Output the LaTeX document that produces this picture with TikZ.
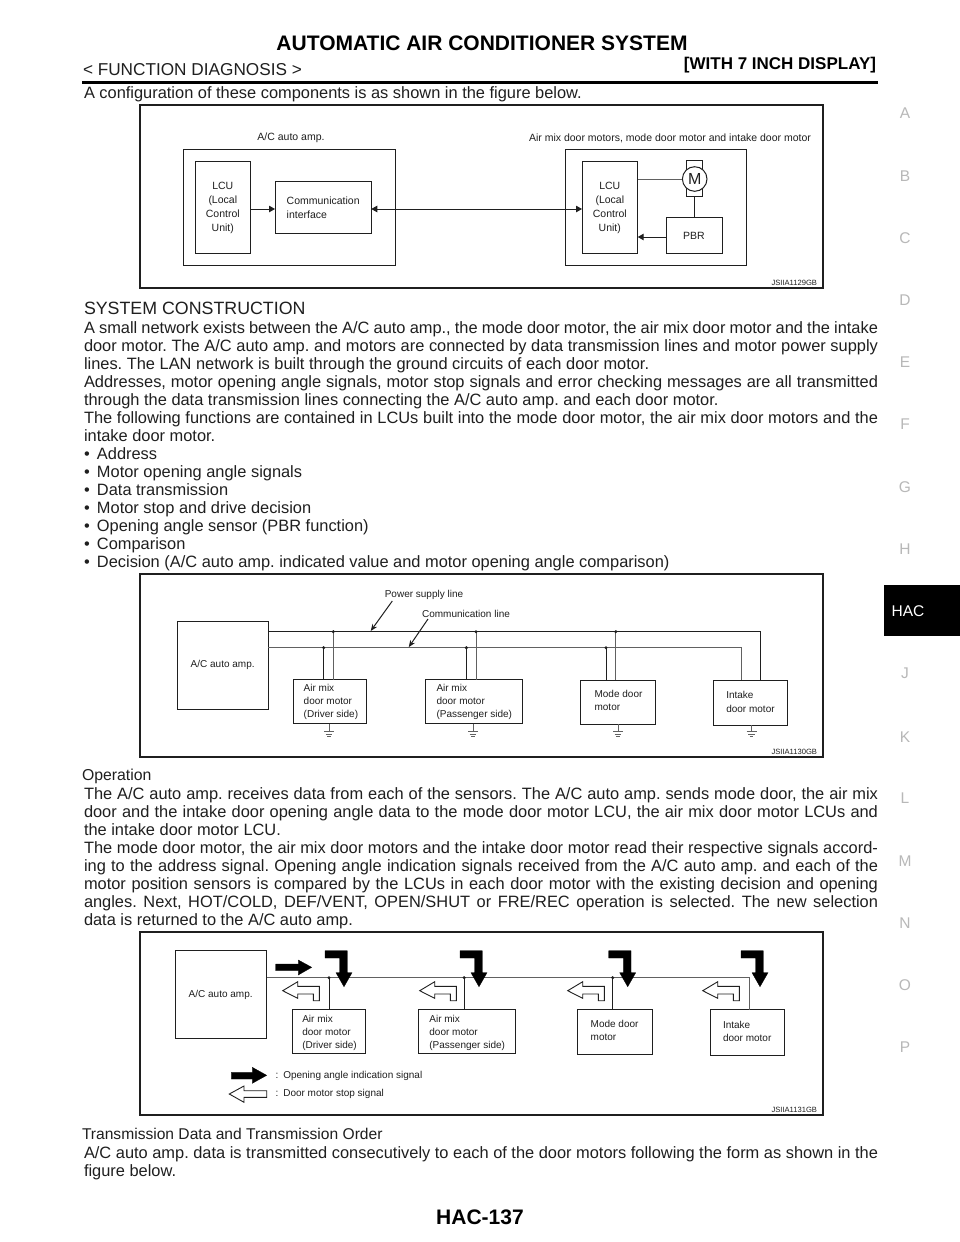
\documentclass[tikz,border=0pt]{standalone}
\usepackage{fontspec}
\setmainfont{Liberation Sans}
\usetikzlibrary{arrows.meta}
\definecolor{ink}{gray}{0.12}
\definecolor{graywire}{gray}{0.38}
\definecolor{side}{gray}{0.72}
\frenchspacing
\newcommand{\fs}[1]{\fontsize{#1}{#1}\selectfont}
\newcommand{\bodysz}{\fs{16.4}}
\newcommand{\jl}[2]{\node[anchor=base west,inner sep=0,text=ink] at (84,#1+5.5) {\bodysz\makebox[794pt][s]{#2}};}
\newcommand{\pl}[2]{\node[anchor=base west,inner sep=0,text=ink] at (84,#1+5.5) {\bodysz #2};}
\newcommand{\bu}[2]{\node[anchor=base west,inner sep=0,text=ink] at (84,#1+5.5) {\bodysz\makebox[13pt][l]{\textbullet}#2};}
\newcommand{\sd}[2]{\node[side,anchor=center] at (905,#1) {#2};}
\tikzset{
 every node/.style={inner sep=0,outer sep=0},
 box/.style={draw=ink,line width=1pt},
 frameb/.style={draw=ink,line width=1.8pt},
 wire/.style={draw=ink,line width=1pt},
 gwire/.style={draw=graywire,line width=1pt},
 lab/.style={anchor=center,text=ink,font=\fs{10}},
 labl/.style={anchor=west,text=ink,font=\fs{10}},
 labb/.style={anchor=center,text=ink,font=\fs{10.5}},
 code/.style={anchor=east,text=ink,font=\fs{7.6}},
 side/.style={text=side,font=\fs{15.5}},
 sig/.style={-{Triangle[length=6pt,width=6.5pt]},wire},
 dot/.style={circle,fill=ink,minimum size=3.4pt},
 blackarr/.style={fill=black,draw=black,line width=0.3pt},
 whitearr/.style={fill=white,draw=ink,line width=0.9pt}
}
\newcommand{\rectn}[5]{\node[box,#5,anchor=north west,minimum width=#3pt-#1pt,minimum height=#4pt-#2pt] at (#1,#2) {};}
\newcommand{\gnd}[2]{\draw[gwire] (#1,#2) -- (#1,731.7) (#1-5,731.7) -- (#1+5,731.7) (#1-3.3,734.3) -- (#1+3.3,734.3) (#1-1.8,736.8) -- (#1+1.8,736.8);}
\newcommand{\elbow}[1]{\begin{scope}[xshift=#1pt]\path[blackarr] (325,950.7) -- (347.3,950.7) -- (347.3,972.7) -- (352,972.7) -- (344,986.7) -- (336,972.7) -- (339.7,972.7) -- (339.7,958) -- (325,958) -- cycle;\end{scope}}
\newcommand{\welbow}[1]{\begin{scope}[xshift=#1pt]\path[whitearr] (282.7,990.7) -- (297.7,981.7) -- (297.7,986.3) -- (319.3,986.3) -- (319.3,1000.7) -- (313.3,1000.7) -- (313.3,994) -- (297.7,994) -- (297.7,998.3) -- cycle;\end{scope}}
\begin{document}
\begin{tikzpicture}[x=1pt,y=-1pt]
\useasboundingbox (0,0) rectangle (960,1242);
\fill[white] (0,0) rectangle (960,1242);
% header
\node[anchor=center,text=black,font=\fs{21}\bfseries] (title) at (482,43) {AUTOMATIC AIR CONDITIONER SYSTEM};
\node[anchor=west,text=ink,font=\fs{17.2}] (sec) at (83,69.5) {< FUNCTION DIAGNOSIS >};
\node[anchor=east,text=black,font=\fs{17}\bfseries] (var) at (876,65) {[WITH 7 INCH DISPLAY]};
\fill[black] (82,81) rectangle (878,84);
\pl{93}{A configuration of these components is as shown in the figure below.}
% figure 1
\draw[frameb] (140,105) rectangle (823,288);
\rectn{183.3}{149.5}{395.7}{265}{name=ampa}
\rectn{195}{161.7}{250.7}{253.3}{name=lcua}
\rectn{275}{181.7}{371.3}{233.3}{name=comm}
\rectn{565.7}{149.5}{746.7}{265}{name=motb}
\rectn{582}{161.7}{637.7}{253.3}{name=lcub}
\rectn{666}{217.7}{722}{253.3}{name=pbr}
\node[box,anchor=north west,minimum width=16pt,minimum height=36pt] (shaft) at (686.7,160.7) {};
\node[box,circle,fill=white,minimum size=24.6pt] (mot) at (694.7,179) {};
\node[anchor=center,text=ink,font=\fs{16}] at (mot) {M};
\node[labb] at (291,138) {A/C auto amp.};
\node[labb] at (670,138) {Air mix door motors, mode door motor and intake door motor};
\node[labb,align=center] at (222.8,207.8) {LCU\\[3.3pt](Local\\[3.3pt]Control\\[3.3pt]Unit)};
\node[labb,align=center] at (609.8,207.8) {LCU\\[3.3pt](Local\\[3.3pt]Control\\[3.3pt]Unit)};
\node[labb,anchor=west,align=left] at (286.7,207.6) {Communication\\[3.3pt]interface};
\node[labb] at (pbr) {PBR};
\draw[sig] (lcua.east |- 0,209) -- (comm.west |- 0,209);
\draw[{Triangle[length=6pt,width=6.5pt]}-{Triangle[length=6pt,width=6.5pt]},wire] (comm.east |- 0,209) -- (lcub.west |- 0,209);
\draw[gwire] (lcub.east |- mot) -- (mot.west);
\draw[wire] (mot.center |- shaft.south) -- (pbr.north -| mot.center);
\draw[sig] (pbr.west |- 0,237) -- (lcub.east |- 0,237);
\node[code] at (817,282.7) {JSIIA1129GB};
% system text
\node[anchor=base west,text=ink,font=\fs{17.8}] at (84,314) {SYSTEM CONSTRUCTION};
\jl{328}{A small network exists between the A/C auto amp., the mode door motor, the air mix door motor and the intake}
\jl{346}{door motor. The A/C auto amp. and motors are connected by data transmission lines and motor power supply}
\pl{364}{lines. The LAN network is built through the ground circuits of each door motor.}
\jl{382}{Addresses, motor opening angle signals, motor stop signals and error checking messages are all transmitted}
\pl{400}{through the data transmission lines connecting the A/C auto amp. and each door motor.}
\jl{418}{The following functions are contained in LCUs built into the mode door motor, the air mix door motors and the}
\pl{436}{intake door motor.}
\bu{454}{Address}
\bu{472}{Motor opening angle signals}
\bu{490}{Data transmission}
\bu{508}{Motor stop and drive decision}
\bu{526}{Opening angle sensor (PBR function)}
\bu{544}{Comparison}
\bu{562}{Decision (A/C auto amp. indicated value and motor opening angle comparison)}
% figure 2
\draw[frameb] (140,574) rectangle (823,757);
\rectn{177.3}{621}{268.3}{709.3}{name=ampc}
\rectn{293.3}{679.5}{366.7}{723.5}{name=ma}
\rectn{425}{679.5}{522}{723.5}{name=mb}
\rectn{580.5}{680}{655.5}{724}{name=mc}
\rectn{713}{680.3}{787}{725}{name=md}
\node[lab] at (222.7,665) {A/C auto amp.};
\coordinate (pw) at (ampc.east |- 0,631.7);
\coordinate (cm) at (ampc.east |- 0,647.7);
\draw[wire] (pw) -- (760,631.7) -- (md.north -| 760,0);
\draw[gwire] (cm) -- (741,647.7) -- (md.north -| 741,0);
\foreach \x/\y in {333.3/323.7,476/466.4,615.8/606}{
 \draw[gwire] (\x,631.7) -- (\x,680);
 \draw[wire] (\y,647.7) -- (\y,680);
 \node[dot] at (\x,631.7) {};
 \node[dot] at (\y,647.7) {};
}
\gnd{329}{723.5}\gnd{473}{723.5}\gnd{618}{724}\gnd{751.5}{725}
\node[lab] (plab) at (424,595) {Power supply line};
\node[lab] (clab) at (466,614) {Communication line};
\draw[-{Stealth[length=7pt,width=5.5pt]},wire] (392.3,601) -- (370.7,631);
\draw[-{Stealth[length=7pt,width=5.5pt]},wire] (428,619) -- (408.7,647.2);
\node[labl] at (303.7,688) {Air mix};
\node[labl] at (303.7,701.3) {door motor};
\node[labl] at (303.7,715) {(Driver side)};
\node[labl] at (436.5,687.5) {Air mix};
\node[labl] at (436.5,701.3) {door motor};
\node[labl] at (436.5,715) {(Passenger side)};
\node[labl] at (594.6,694.3) {Mode door};
\node[labl] at (594.6,707.7) {motor};
\node[labl] at (726.3,695.3) {Intake};
\node[labl] at (726.3,709) {door motor};
\node[code] at (817,752) {JSIIA1130GB};
% operation
\node[anchor=base west,text=ink,font=\fs{15.8}] at (82,780.5) {Operation};
\jl{794}{The A/C auto amp. receives data from each of the sensors. The A/C auto amp. sends mode door, the air mix}
\jl{812}{door and the intake door opening angle data to the mode door motor LCU, the air mix door motor LCUs and}
\pl{830}{the intake door motor LCU.}
\jl{848}{The mode door motor, the air mix door motors and the intake door motor read their respective signals accord-}
\jl{866}{ing to the address signal. Opening angle indication signals received from the A/C auto amp. and each of the}
\jl{884}{motor position sensors is compared by the LCUs in each door motor with the existing decision and opening}
\jl{902}{angles. Next, HOT/COLD, DEF/VENT, OPEN/SHUT or FRE/REC operation is selected. The new selection}
\pl{920}{data is returned to the A/C auto amp.}
% figure 3
\draw[frameb] (140,932) rectangle (823,1115);
\rectn{175}{950.3}{266.7}{1038.3}{name=ampd}
\rectn{292}{1009.3}{365.3}{1053.5}{name=na}
\rectn{418}{1009.3}{515}{1053.5}{name=nb}
\rectn{577}{1009.3}{652}{1054}{name=nc}
\rectn{710}{1009.5}{784}{1055}{name=nd}
\node[lab] at (220.7,995) {A/C auto amp.};
\coordinate (bus) at (ampd.east |- 0,977.7);
\draw[gwire] (bus) -- (749,977.7) -- (nd.north -| 749,0);
\foreach \x in {329,464.2,612.7}{
 \draw[wire] (\x,977.7) -- (\x,1009.3);
 \node[dot] at (\x,977.7) {};
}
\path[blackarr] (275.7,964) -- (298.3,964) -- (298.3,960) -- (311.7,967.3) -- (298.3,975) -- (298.3,970.7) -- (275.7,970.7) -- cycle;
\elbow{0}\elbow{135}\elbow{283.7}\elbow{416}
\welbow{0}\welbow{137}\welbow{285}\welbow{420}
\node[labl] at (302.3,1019) {Air mix};
\node[labl] at (302.3,1031.7) {door motor};
\node[labl] at (302.3,1045.7) {(Driver side)};
\node[labl] at (429.4,1019) {Air mix};
\node[labl] at (429.4,1031.7) {door motor};
\node[labl] at (429.4,1045.7) {(Passenger side)};
\node[labl] at (590.7,1024) {Mode door};
\node[labl] at (590.7,1037.3) {motor};
\node[labl] at (723,1025) {Intake};
\node[labl] at (723,1038.3) {door motor};
\path[blackarr] (231.3,1072.3) -- (252.3,1072.3) -- (252.3,1067.3) -- (266.7,1075.3) -- (252.3,1083.3) -- (252.3,1079) -- (231.3,1079) -- cycle;
\path[whitearr] (229.3,1094) -- (244,1086) -- (244,1090.7) -- (266.7,1090.7) -- (266.7,1097.3) -- (244,1097.3) -- (244,1102.3) -- cycle;
\node[labl] at (275.7,1076) {:\hspace{4.8pt}Opening angle indication signal};
\node[labl] at (275.7,1093.7) {:\hspace{4.8pt}Door motor stop signal};
\node[code] at (817,1110) {JSIIA1131GB};
% end text
\node[anchor=base west,text=ink,font=\fs{15.6}] at (82,1139) {Transmission Data and Transmission Order};
\jl{1153}{A/C auto amp. data is transmitted consecutively to each of the door motors following the form as shown in the}
\pl{1171}{figure below.}
\node[anchor=center,text=black,font=\fs{21}\bfseries] (page) at (480,1217) {HAC-137};
% side tabs
\sd{113}{A}\sd{176}{B}\sd{238}{C}\sd{300}{D}\sd{362}{E}\sd{424}{F}\sd{487}{G}\sd{549}{H}
\fill[black] (884,585) rectangle (960,636);
\node[anchor=center,text=white,font=\fs{15.5}] (hac) at (908,611) {HAC};
\sd{673}{J}\sd{737}{K}\sd{798}{L}\sd{861}{M}\sd{923}{N}\sd{985}{O}\sd{1047}{P}
\end{tikzpicture}
\end{document}
